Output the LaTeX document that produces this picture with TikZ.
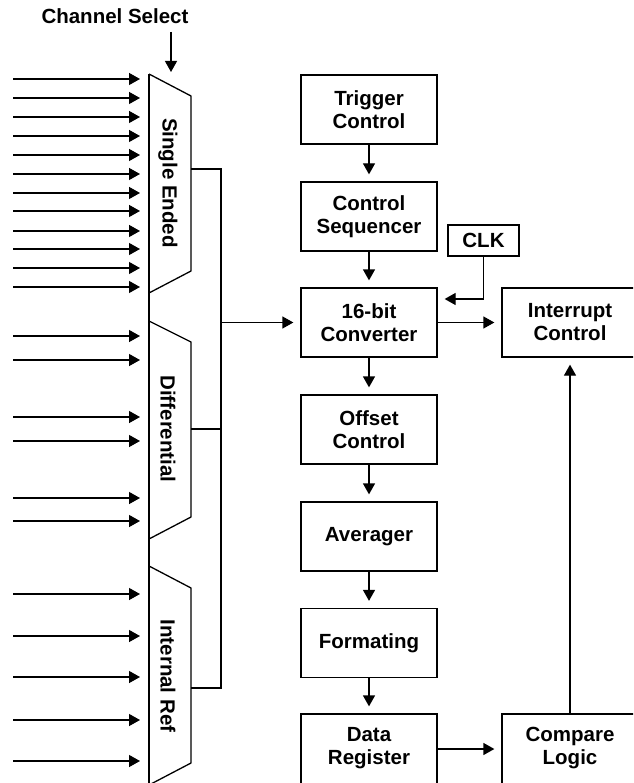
\documentclass[tikz,border=0pt]{standalone}
\usepackage{fontspec}
\setmainfont{Liberation Sans}
\usetikzlibrary{arrows.meta}
\begin{document}
\begin{tikzpicture}[x=1pt,y=-1pt, line width=1.3pt,
  >={Triangle[length=11pt,width=12pt]},
  txt/.style={font=\fontsize{20.5}{23}\selectfont\bfseries, inner sep=0pt, align=center},
  box/.style={txt, draw, minimum width=136pt, minimum height=69pt},
  conn/.style={->, shorten >=7pt}]
\useasboundingbox (0,0) rectangle (633,783);
\clip (0,0) rectangle (633,783);

% multiplexers
\draw (149,74) -- (191,96) -- (191,271) -- (149,293);
\draw (149,321) -- (191,342) -- (191,517) -- (149,539);
\draw (149,566) -- (191,588) -- (191,763) -- (149,785);
\draw (149,74) -- (149,790);
\node[txt, rotate=-90] (se) at (168,183) {Single Ended};
\node[txt, rotate=-90] (diff) at (168,429) {Differential};
\node[txt, rotate=-90] (iref) at (168,676) {Internal Ref};

% channel select
\node[txt] (cs) at (115,16) {Channel Select};
\coordinate (csa) at (171,32);
\coordinate (csb) at (171,72);
\draw[->] (csa) -- (csb);

% inputs
\foreach \y [count=\i] in {79,98,117,136,155,174,193,211,231,249,268,287,
                           336,360,417,441,498,521,
                           594,636,677,720,761}{
  \coordinate (ia\i) at (13,\y);
  \coordinate (ib\i) at (140,\y);
  \draw[->] (ia\i) -- (ib\i);
}

% mux outputs and bus
\coordinate (o1) at (191,169);
\coordinate (o2) at (191,429);
\coordinate (o3) at (191,688);
\coordinate (b1) at (221,169);
\coordinate (b2) at (221,429);
\coordinate (b3) at (221,688);
\coordinate (bus) at (221,322.5);
\draw (o1) -- (b1) -- (b3) -- (o3);
\draw (o2) -- (b2);

% right blocks
\node[box] (trig) at (369,109.5) {Trigger\\Control};
\node[box] (seq) at (369,216.5) {Control\\Sequencer};
\node[box] (conv) at (369,322.5) {16-bit\\Converter};
\node[box] (off) at (369,429.5) {Offset\\Control};
\node[box] (avg) at (369,536.5) {Averager};
\node[box] (fmt) at (369,643) {Formating};
\node[box, minimum height=72pt] (dreg) at (369,750) {};
\node[txt] at (369,748.5) {Data\\Register};
\node[box] (intr) at (570,322.5) {Interrupt\\Control};
\node[box, minimum height=72pt] (cmp) at (570,750) {};
\node[txt] at (570,748.5) {Compare\\Logic};
\node[txt, draw, minimum width=71pt, minimum height=31pt] (clk) at (483.5,240.5) {CLK};

\draw[conn] (bus) -- (conv.west);
\draw[conn] (trig) -- (seq);
\draw[conn] (seq) -- (conv);
\draw[conn] (conv) -- (off);
\draw[conn] (off) -- (avg);
\draw[conn] (avg) -- (fmt);
\draw[conn] (fmt) -- (dreg);
\draw[conn] (conv.east) -- (intr.west);
\draw[conn] (dreg.east |- 0,749) -- (cmp.west |- 0,749);
\draw[conn] (cmp.north) -- (intr.south);
\draw[conn] (clk.south) |- (conv.east |- 0,299);
\end{tikzpicture}
\end{document}
